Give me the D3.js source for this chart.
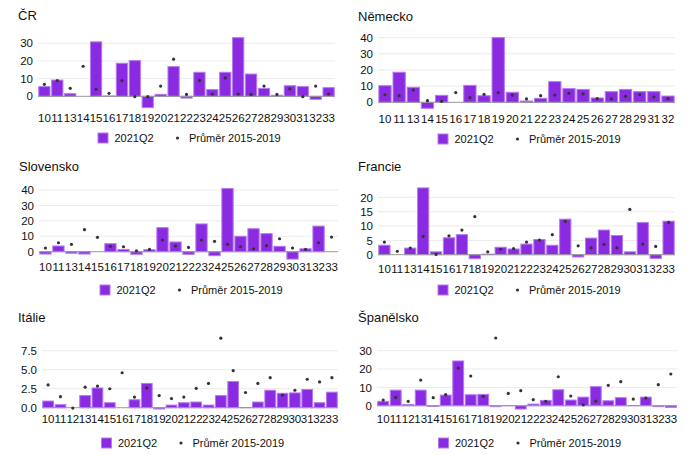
<!DOCTYPE html>
<html><head><meta charset="utf-8">
<script src="https://cdn.jsdelivr.net/npm/d3@7"></script>
<style>body{margin:0;background:#fff}svg{display:block;font-family:"Liberation Sans",Arial,sans-serif}</style>
</head><body>
<svg id="c" width="700" height="455"></svg>
<script>
const seriesNames = ["2021Q2", "Průměr 2015-2019"];

const catsCR = ["10","11","13","14","15","16","17","18","19","20","21","22","23","24","25","26","27","28","29","30","31","32","33"];
const q2CR  = [5.5,9.2,1.5,0,30.8,0.2,18.7,20.2,-6.4,1.1,16.8,-1,13.6,3.8,13.6,33.2,12.6,4.5,0.6,6.0,5.5,-1.7,4.9];
const avgCR = [6.8,8.9,4.5,17,4,1.7,8.9,-0.2,-0.2,5.8,21,1.1,9,1.3,10.4,1.3,1.1,5.8,1.1,4.2,-0.2,5.8,1.3];
const ticksCR = [0,10,20,30];

const catsDE = ["10","11","13","14","15","16","17","18","19","20","21","22","23","24","25","26","27","28","29","31","32"];
const q2DE  = [10.3,18.6,9.3,-3.7,4.3,0,10.5,4.1,40,6.2,0.8,2.5,12.8,8.5,8,2.7,6.6,8,6.6,6.6,3.9];
const avgDE = [4.7,4.1,7.6,1,0.6,6,2.9,4.9,6,4.5,2.1,4.1,4.5,5.6,5.2,2.3,2.1,3.7,4.7,3.3,2.3];
const ticksDE = [0,10,20,30,40];

const catsSK = ["10","11","13","14","15","16","17","18","19","20","21","22","23","24","25","26","27","28","29","30","31","32","33"];
const q2SK  = [-1.5,3.7,-1,-1.5,0,5.2,1.5,-1.7,1.3,15.6,6.3,-1.7,18,-2.6,41,10,14.9,11.7,3.5,-4.8,1.9,16.6,null];
const avgSK = [2.4,5.8,4.8,14.3,9.3,3.5,3.2,0.6,1.5,7.6,3.7,2.8,7.6,6.7,4.8,3.2,1.9,3.9,8.4,2.4,1.5,5.8,9.5];
const ticksSK = [0,10,20,30,40];

const catsFR = ["10","11","13","14","15","16","17","18","19","20","21","22","23","24","25","26","27","28","29","30","31","32","33"];
const q2FR  = [3.3,0,2.3,23.3,1.0,5.9,7,-1.4,0.2,2.6,2,3.7,5.3,3.3,12.4,-0.8,5.8,8.6,6.7,1.0,11.2,-1.3,11.7];
const avgFR = [4.4,1.2,2.3,6.4,0.1,6.6,8.6,13.3,1,1.9,2.1,4.4,5.1,7,11.6,3.1,2.4,3.6,2.4,15.8,3.7,2.9,11.3];
const ticksFR = [0,5,10,15,20];

const catsIT = ["10","11","12","13","14","15","16","17","18","19","20","21","22","23","24","25","26","27","28","29","30","31","32","33"];
const q2IT  = [0.88,0.4,0,1.6,2.6,0.66,0,1.05,3.2,-0.17,0.35,0.66,0.75,0.35,1.6,3.45,0.03,0.75,2.3,1.9,1.95,2.4,0.66,2.05];
const avgIT = [3.0,1.45,-0.05,2.7,2.85,2.5,4.6,1.4,2.6,1.6,1.2,1.4,2.55,3.2,9.15,4.87,2.0,3.2,3.95,1.65,2.3,3.75,3.4,3.95];
const ticksIT = [0,2.5,5,7.5];

const catsES = ["10","11","12","13","14","15","16","17","18","19","20","21","22","23","24","25","26","27","28","29","30","31","32","33"];
const q2ES  = [2.4,8.5,0.7,8.5,-0.4,5.8,24.4,6,6.2,-0.5,0.1,-1.8,0.9,2.9,8.7,3.1,4.7,10.4,2.7,4.4,0.1,4.7,-0.5,-0.9];
const avgES = [3.1,4.5,2.4,14,4.4,6,20.5,16.2,5.1,36.9,6.7,8.2,3.3,2.4,15.8,5.3,0.5,2.5,11.1,13.1,3.6,4.2,11.5,17.3];
const ticksES = [0,10,20,30];

const panels = [
  {title:"ČR", cats:catsCR, q2:q2CR, avg:avgCR, ticks:ticksCR, fmt:d3.format("d"),
   x0:38, x1:335, dom:[-7,34], rng:[108.7,36.2], tx:18, ty:20, xl:122, ly:142},
  {title:"Německo", cats:catsDE, q2:q2DE, avg:avgDE, ticks:ticksDE, fmt:d3.format("d"),
   x0:378, x1:675, dom:[-4,41], rng:[108.8,36.0], tx:358, ty:20.5, xl:123, ly:143},
  {title:"Slovensko", cats:catsSK, q2:q2SK, avg:avgSK, ticks:ticksSK, fmt:d3.format("d"),
   x0:39, x1:338, dom:[-5.5,42], rng:[260.2,186.9], tx:19, ty:171, xl:271, ly:294},
  {title:"Francie", cats:catsFR, q2:q2FR, avg:avgFR, ticks:ticksFR, fmt:d3.format("d"),
   x0:378, x1:675, dom:[-1.5,24], rng:[259.0,185.9], tx:358, ty:171, xl:273, ly:294},
  {title:"Itálie", cats:catsIT, q2:q2IT, avg:avgIT, ticks:ticksIT, fmt:d3.format(".1f"),
   x0:42, x1:338, dom:[-0.3,9.4], rng:[410.0,336.3], tx:18, ty:322, xl:423, ly:447},
  {title:"Španělsko", cats:catsES, q2:q2ES, avg:avgES, ticks:ticksES, fmt:d3.format("d"),
   x0:377, x1:677, dom:[-2,38], rng:[409.4,336.0], tx:358, ty:322, xl:423, ly:447}
];

const BAR_FILL = "#8a2be2", BAR_STROKE = "#b47cf2", DOT = "#333";
const svg = d3.select("#c");

panels.forEach(p => {
  const g = svg.append("g");
  const x = d3.scaleBand().domain(p.cats).range([p.x0, p.x1]).paddingInner(0.13).paddingOuter(0.06);
  const y = d3.scaleLinear().domain(p.dom).range(p.rng);

  g.append("text").attr("x", p.tx).attr("y", p.ty).attr("font-size", 13).attr("fill", "#111").text(p.title);

  // grid
  g.selectAll(".grid").data(p.ticks.filter(t => t !== 0)).join("line")
    .attr("x1", p.x0).attr("x2", p.x1).attr("y1", d => y(d)).attr("y2", d => y(d))
    .attr("stroke", "#ebebeb").attr("stroke-width", 1);

  // y labels
  g.selectAll(".yl").data(p.ticks).join("text")
    .attr("x", p.x0 - 5).attr("y", d => y(d)).attr("dy", "0.36em")
    .attr("text-anchor", "end").attr("font-size", 11.5).attr("fill", "#111").text(d => p.fmt(d));

  // bars
  const data = p.cats.map((c, i) => ({c, v: p.q2[i], a: p.avg[i]}));
  g.selectAll(".bar").data(data.filter(d => d.v !== null)).join("rect")
    .attr("x", d => x(d.c)).attr("width", x.bandwidth())
    .attr("y", d => Math.min(y(d.v), y(0))).attr("height", d => Math.abs(y(d.v) - y(0)))
    .attr("fill", BAR_FILL).attr("stroke", BAR_STROKE).attr("stroke-width", 1);

  // zero line
  g.append("line").attr("x1", p.x0).attr("x2", p.x1).attr("y1", y(0)).attr("y2", y(0))
    .attr("stroke", "#999").attr("stroke-width", 1);

  // dots
  g.selectAll(".dot").data(data).join("circle")
    .attr("cx", d => x(d.c) + x.bandwidth() / 2).attr("cy", d => y(d.a)).attr("r", 1.6)
    .attr("fill", DOT);

  // x labels
  g.selectAll(".xl").data(p.cats).join("text")
    .attr("x", d => x(d) + x.bandwidth() / 2).attr("y", p.xl)
    .attr("text-anchor", "middle").attr("font-size", 11.5).attr("fill", "#111").text(d => d);

  // legend
  const cx = (p.x0 + p.x1) / 2;
  const lg = g.append("g").attr("transform", `translate(${cx},${p.ly})`);
  lg.append("rect").attr("x", -88.5).attr("y", -9).attr("width", 10).attr("height", 10)
    .attr("fill", BAR_FILL).attr("stroke", BAR_STROKE);
  lg.append("text").attr("x", -72).attr("y", 0).attr("font-size", 11).attr("fill", "#111").text(seriesNames[0]);
  lg.append("circle").attr("cx", -9).attr("cy", -4).attr("r", 1.6).attr("fill", DOT);
  lg.append("text").attr("x", 2.5).attr("y", 0).attr("font-size", 11).attr("fill", "#111").text(seriesNames[1]);
});
</script>
</body></html>
